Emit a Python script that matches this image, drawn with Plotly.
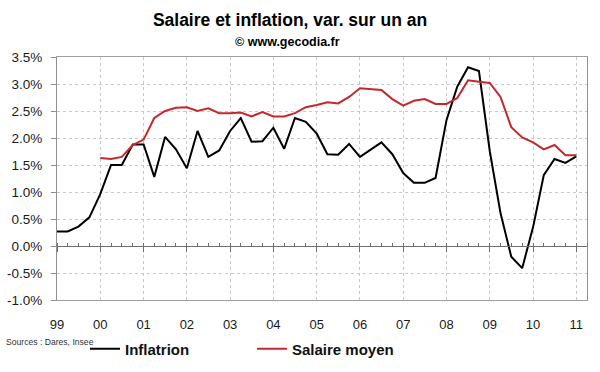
import plotly.graph_objects as go
import pandas as pd

# Quarterly data (year-on-year change, %)
infl_start = "1999-01-01"
inflation = [0.27, 0.27, 0.36, 0.53,
             0.96, 1.50, 1.50, 1.88,
             1.88, 1.28, 2.02, 1.79,
             1.44, 2.13, 1.65, 1.77,
             2.13, 2.37, 1.93, 1.94,
             2.19, 1.80, 2.37, 2.30,
             2.08, 1.70, 1.69, 1.89,
             1.65, 1.78, 1.92, 1.70,
             1.35, 1.17, 1.17, 1.26,
             2.33, 2.95, 3.31, 3.24,
             1.75, 0.61, -0.20, -0.41,
             0.35, 1.31, 1.61, 1.54,
             1.66]

sal_start = "2000-01-01"
salaire = [1.63, 1.61, 1.65, 1.87,
           1.97, 2.37, 2.50, 2.56,
           2.57, 2.50, 2.55, 2.46,
           2.46, 2.47, 2.40, 2.48,
           2.40, 2.40, 2.46, 2.57,
           2.61, 2.66, 2.64, 2.76,
           2.92, 2.90, 2.89, 2.72,
           2.60, 2.69, 2.72, 2.63,
           2.63, 2.74, 3.07, 3.04,
           3.02, 2.76, 2.20, 2.01,
           1.92, 1.79, 1.87, 1.68,
           1.68]

year_ticks = [f"{y}-01-01" for y in range(1999, 2012)]
y_ticks = [-1.0, -0.5, 0.0, 0.5, 1.0, 1.5, 2.0, 2.5, 3.0, 3.5]
y_ticktext = [f"{v:.1f}%" for v in y_ticks]

infl_dates = pd.date_range(infl_start, periods=len(inflation), freq="QS")
sal_dates = pd.date_range(sal_start, periods=len(salaire), freq="QS")

FONT = "Arial, Liberation Sans, sans-serif"
x_range = ["1999-01-01", "2011-04-01"]

fig = go.Figure()
fig.add_trace(go.Scatter(x=infl_dates, y=inflation, mode="lines", name="Inflatrion",
                         line=dict(color="#000000", width=2)))
fig.add_trace(go.Scatter(x=sal_dates, y=salaire, mode="lines", name="Salaire moyen",
                         line=dict(color="#C4282C", width=2)))

fig.update_layout(
    width=600, height=372,
    margin=dict(l=57, r=13, t=57, b=72, autoexpand=False),
    paper_bgcolor="white", plot_bgcolor="white",
    font=dict(family=FONT, color="#1a1a1a"),
    title=dict(text="<b>Salaire et inflation, var. sur un an</b>",
               font=dict(size=17.5, color="#000000"),
               x=290/600, xanchor="center", xref="container",
               y=1-20/372, yanchor="middle", yref="container"),
    showlegend=True,
    legend=dict(orientation="h", x=(85-57)/530, xanchor="left",
                y=-(349-300)/243, yanchor="middle",
                font=dict(size=15, color="#111111", family=FONT, weight="bold"),
                entrywidth=122, entrywidthmode="pixels",
                bgcolor="rgba(0,0,0,0)", itemwidth=30),
    xaxis=dict(type="date", range=x_range, tickvals=year_ticks, tickformat="%y",
               showgrid=True, gridcolor="#c8c8c8", griddash="dot", gridwidth=1,
               showline=True, linecolor="#a0a0a0", mirror=True,
               ticks="", ticklabelstandoff=12, automargin=False,
               tickfont=dict(size=13, color="#1a1a1a"), zeroline=False),
    xaxis2=dict(type="date", range=x_range, overlaying="x", anchor="free",
                position=1/4.5, side="bottom", automargin=False,
                tickvals=year_ticks, showticklabels=False,
                ticks="outside", ticklen=5, tickcolor="#707070",
                minor=dict(dtick="M3", ticks="inside", ticklen=3, tickcolor="#707070", showgrid=False),
                showgrid=False, showline=True, linecolor="#707070", linewidth=1,
                zeroline=False),
    yaxis=dict(range=[-1.0, 3.5], tickvals=y_ticks, ticktext=y_ticktext,
               showgrid=True, gridcolor="#c8c8c8", griddash="dot", gridwidth=1,
               showline=True, linecolor="#909090", mirror=True, automargin=False,
               ticks="outside", ticklen=5, tickcolor="#909090", ticklabelstandoff=6,
               tickfont=dict(size=13.5, color="#1a1a1a"), zeroline=False),
)

# invisible trace to activate xaxis2 (zero line with quarterly ticks)
fig.add_trace(go.Scatter(x=[infl_dates[0]], y=[None], xaxis="x2", showlegend=False,
                         hoverinfo="skip"))

fig.add_annotation(text="<b>© www.gecodia.fr</b>", xref="paper", yref="paper",
                   x=(287-57)/530, y=1+(57-42)/243, xanchor="center", yanchor="middle",
                   showarrow=False, font=dict(size=12.5, color="#000000", family=FONT))
fig.add_annotation(text="Sources : Dares, Insee", xref="paper", yref="paper",
                   x=(4-57)/530, y=-(342-300)/243, xanchor="left", yanchor="middle",
                   showarrow=False,
                   font=dict(size=8.6, color="#333333", family=FONT))

fig.write_html("out.html", config={"displayModeBar": False},
               post_script="document.body.style.margin='0px';document.body.style.overflow='hidden';")
